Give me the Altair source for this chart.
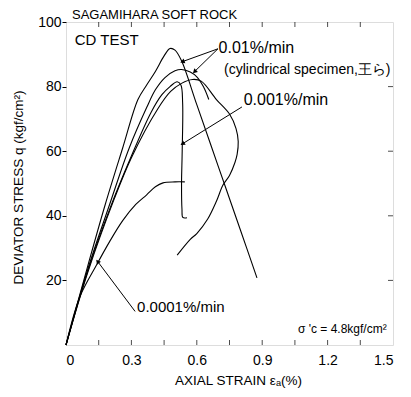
import math
import altair as alt
import pandas as pd

# ---- curve data (axial strain %, deviator stress kgf/cm2) ----
a_x = [0, 0.10, 0.18, 0.26, 0.33, 0.37, 0.41, 0.45, 0.477, 0.50, 0.53, 0.60, 0.70, 0.80, 0.876]
a_y = [0, 24.5, 43.5, 61.0, 76.0, 80.5, 84.7, 89.5, 91.8, 91.3, 88.0, 74.4, 55.0, 35.6, 20.8]

b_x = [0, 0.10, 0.20, 0.29, 0.37, 0.41, 0.454, 0.50, 0.53, 0.57, 0.60, 0.63, 0.655]
b_y = [0, 23.5, 43.5, 61.0, 73.5, 79.0, 82.8, 84.9, 85.3, 84.5, 83.0, 80.0, 76.0]

c_x = [0, 0.10, 0.20, 0.30, 0.39, 0.44, 0.477, 0.51, 0.527, 0.535, 0.533, 0.530, 0.532, 0.536, 0.555]
c_y = [0, 23.0, 42.0, 58.5, 72.0, 77.5, 80.0, 81.5, 80.5, 75.0, 60.0, 50.0, 42.0, 39.5, 39.4]

d_x = [0, 0.10, 0.22, 0.30, 0.42, 0.48, 0.53, 0.58, 0.62, 0.69, 0.75, 0.78, 0.79, 0.785,
       0.775, 0.75, 0.72, 0.69, 0.65, 0.60, 0.57, 0.51]
d_y = [0, 22.5, 45.0, 58.0, 73.0, 78.5, 81.0, 82.2, 81.7, 76.0, 71.5, 67.0, 63.0, 59.0,
       56.5, 52.5, 49.5, 44.5, 39.0, 34.5, 32.7, 27.8]

e_x = [0, 0.064, 0.142, 0.20, 0.26, 0.32, 0.37, 0.41, 0.445, 0.50, 0.545]
e_y = [0, 15.0, 25.0, 32.0, 38.5, 43.5, 46.5, 49.0, 50.2, 50.5, 50.5]

curves = [("A", a_x, a_y), ("B", b_x, b_y), ("C", c_x, c_y), ("D", d_x, d_y), ("E", e_x, e_y)]

x_ticks = [0, 0.3, 0.6, 0.9, 1.2, 1.5]
y_ticks = [20, 40, 60, 80, 100]
x_minor = [0.15, 0.3, 0.45, 0.6, 0.75, 0.9, 1.05, 1.2, 1.35]
y_minor = [20, 40, 60, 80]

# ---- annotation texts ----
title_text = "SAGAMIHARA SOFT ROCK"
title_x, title_y = 0.0275, 100.8
ann_text = ["CD TEST", "0.01%/min", "(cylindrical specimen,王ら)",
            "0.001%/min", "0.0001%/min", "σ 'c = 4.8kgf/cm²"]
ann_x = [0.04, 0.70, 0.725, 0.815, 0.326, 1.064]
ann_y = [94.5, 92.0, 85.0, 75.8, 11.9, 4.8]
ann_size = [15, 16, 14, 16, 15, 12]

# ---- leader arrows ----
arr_x1 = [0.697, 0.697, 0.807, 0.317]
arr_y1 = [91.7, 91.7, 73.7, 10.4]
arr_x2 = [0.537, 0.592, 0.537, 0.147]
arr_y2 = [87.8, 84.8, 62.4, 25.7]

W, H = 327, 323
XD, YD = [0, 1.5], [0, 100]

rows = []
for name, xs_, ys_ in curves:
    for i, (x, y) in enumerate(zip(xs_, ys_)):
        rows.append({"curve": name, "x": x, "y": y, "i": i})
df = pd.DataFrame(rows)

ann = pd.DataFrame({"text": ann_text, "x": ann_x, "y": ann_y, "size": ann_size})
ttl = pd.DataFrame({"text": [title_text], "x": [title_x], "y": [title_y]})

arr_rows = []
for x1, y1, x2, y2 in zip(arr_x1, arr_y1, arr_x2, arr_y2):
    dx = (x2 - x1) * W / (XD[1] - XD[0])
    dy = -(y2 - y1) * H / (YD[1] - YD[0])
    ang = math.degrees(math.atan2(dx, -dy)) % 360
    arr_rows.append({"x1": x1, "y1": y1, "x2": x2, "y2": y2, "ang": ang})
arr = pd.DataFrame(arr_rows)

FONT = "Liberation Sans"
xs = alt.Scale(domain=XD, nice=False, zero=False)
ys = alt.Scale(domain=YD, nice=False, zero=False)

lines = alt.Chart(df).mark_line(color="black", strokeWidth=1.1, interpolate="catmull-rom").encode(
    x=alt.X("x:Q", scale=xs,
            axis=alt.Axis(values=x_ticks, tickSize=0, domain=False, grid=False,
                          labelExpr="datum.value == 0 ? '0' : format(datum.value, '.1f')",
                          labelPadding=8, labelFontSize=14, labelFont=FONT, labelColor="black",
                          title="AXIAL STRAIN  εₐ(%)", titleFont=FONT, titleFontSize=13.5,
                          titleFontWeight="normal", titleColor="black",
                          titleX=172, titleY=35, titleBaseline="middle", titleAlign="center")),
    y=alt.Y("y:Q", scale=ys,
            axis=alt.Axis(values=y_ticks, tickSize=4, tickColor="black", domain=False, grid=False,
                          labelPadding=1, labelFontSize=14, labelFont=FONT, labelColor="black",
                          title="DEVIATOR STRESS q (kgf/cm²)", titleFont=FONT, titleFontSize=13.5,
                          titleFontWeight="normal", titleColor="black", titleAngle=-90,
                          titleX=-48, titleY=165, titleBaseline="middle", titleAlign="center")),
    detail="curve:N",
    order="i:Q",
)

texts = alt.Chart(ann).mark_text(align="left", baseline="middle", font=FONT, color="black").encode(
    x=alt.X("x:Q", scale=xs), y=alt.Y("y:Q", scale=ys),
    text="text:N", size=alt.Size("size:Q", scale=None, legend=None),
)
title = alt.Chart(ttl).mark_text(align="left", baseline="alphabetic", font=FONT, color="black",
                                 fontSize=13).encode(
    x=alt.X("x:Q", scale=xs), y=alt.Y("y:Q", scale=ys), text="text:N")

rules = alt.Chart(arr).mark_rule(color="black", strokeWidth=1).encode(
    x=alt.X("x1:Q", scale=xs), y=alt.Y("y1:Q", scale=ys), x2="x2:Q", y2="y2:Q"
)
heads = alt.Chart(arr).mark_point(shape="triangle", filled=True, color="black", size=26, opacity=1).encode(
    x=alt.X("x2:Q", scale=xs), y=alt.Y("y2:Q", scale=ys), angle=alt.Angle("ang:Q", scale=None)
)

xm = pd.DataFrame({"v": x_minor})
ym = pd.DataFrame({"v": y_minor})
tick_b = alt.Chart(xm).mark_tick(orient="vertical", size=5, thickness=1, color="black", yOffset=-2.5).encode(
    x=alt.X("v:Q", scale=xs), y=alt.datum(0))
tick_t = alt.Chart(xm).mark_tick(orient="vertical", size=5, thickness=1, color="black", yOffset=2.5).encode(
    x=alt.X("v:Q", scale=xs), y=alt.datum(100))
tick_r = alt.Chart(ym).mark_tick(orient="horizontal", size=5, thickness=1, color="black", xOffset=-2.5).encode(
    y=alt.Y("v:Q", scale=ys), x=alt.datum(1.5))

chart = alt.layer(lines, tick_b, tick_t, tick_r, rules, heads, texts, title).properties(
    width=W, height=H,
    autosize=alt.AutoSizeParams(type="none"),
    padding={"left": 58, "top": 14, "right": 10, "bottom": 44},
).configure_view(stroke="black", strokeWidth=1.2).configure(background="white")

chart.save("out.html", embed_options={"renderer": "svg", "actions": False})
